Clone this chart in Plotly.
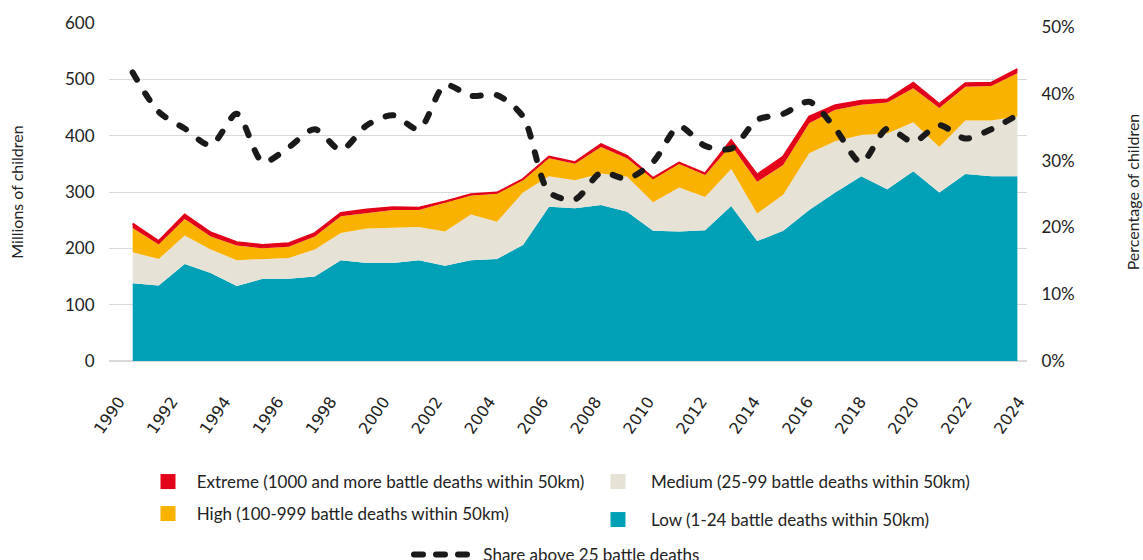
import plotly.graph_objects as go

years = list(range(1990, 2025))

low = [138, 134, 172, 156, 133, 146, 146, 150, 179, 174, 174, 179, 169, 179, 181, 206, 274, 271, 277, 265,
       231, 230, 232, 275, 213, 231, 268, 299, 328, 305, 337, 299, 332, 328, 328]
medium = [55, 47, 51, 42, 46, 35, 37, 48, 48, 61, 63, 59, 61, 81, 66, 93, 54, 50, 56, 62,
          51, 78, 59, 66, 49, 64, 101, 91, 73, 99, 87, 81, 95, 99, 106]
high = [43, 26, 29, 23, 26, 19, 20, 23, 30, 28, 31, 30, 51, 34, 50, 22, 32, 29, 47, 33,
        41, 42, 39, 42, 56, 53, 53, 56, 54, 55, 60, 69, 60, 61, 77]
extreme = [8, 6, 8, 7, 6, 6, 6, 6, 6, 6, 5, 4, 2, 2, 2, 2, 3, 3, 5, 4,
           2, 2, 3, 9, 13, 15, 12, 8, 7, 5, 10, 7, 6, 6, 7]
share = [43.2, 37.3, 34.8, 32.3, 37.0, 29.8, 32.0, 34.7, 31.6, 35.3, 36.8, 34.7, 41.3, 39.7, 39.8, 36.6,
         25.3, 24.2, 28.2, 27.3, 29.8, 35.1, 32.2, 31.8, 36.1, 37.0, 38.8, 34.8, 29.7, 34.8, 32.8,
         35.3, 33.3, 34.7, 36.8]

x_ticks = years[::2]
left_ticks = [0, 100, 200, 300, 400, 500, 600]
right_ticks = [0, 0.1, 0.2, 0.3, 0.4, 0.5]

C_LOW = "#00A1B6"
C_MED = "#E6E2D6"
C_HIGH = "#F9B200"
C_EXT = "#E2001A"
C_LINE = "#1A1A1A"

FONT = "Lato, 'Open Sans', sans-serif"
NB = "\u00a0"

fig = go.Figure()

series = [("Low (1-24 battle deaths within 50km)", low, C_LOW, 0),
          ("Medium (25-99 battle deaths within 50km)", medium, C_MED, 0),
          ("High (100-999 battle deaths within 50km)", high, C_HIGH, 0),
          ("Extreme (1000 and more battle deaths within 50km)", extreme, C_EXT, 2)]

for name, vals, col, lw in series:
    fig.add_trace(go.Scatter(
        x=years, y=vals, name=name, stackgroup="one", mode="lines",
        line=dict(color=col, width=lw), fillcolor=col, showlegend=False,
        hoverinfo="skip"))

fig.add_trace(go.Scatter(
    x=years, y=[v / 100 for v in share], yaxis="y2", mode="lines",
    name="Share above 25 battle deaths",
    line=dict(color=C_LINE, width=6, dash="8px,16px", shape="spline", smoothing=0.8),
    showlegend=False))

# invisible trace to carry the tick-label axis
fig.add_trace(go.Scatter(x=[None], y=[None], xaxis="x2", yaxis="y", showlegend=False,
                         hoverinfo="skip"))

# legend entries (separate legends for layout)
legend_items = [
    (NB * 2 + "Extreme (1000 and more battle deaths within 50km)", C_EXT, "legend"),
    (NB * 2 + "High (100-999 battle deaths within 50km)", C_HIGH, "legend2"),
    (NB * 3 + "Medium (25-99 battle deaths within 50km)", C_MED, "legend3"),
    (NB * 3 + "Low (1-24 battle deaths within 50km)", C_LOW, "legend4"),
]
for name, col, lg in legend_items:
    fig.add_trace(go.Scatter(
        x=[None], y=[None], mode="markers", name=name,
        marker=dict(symbol="square", size=15, color=col), legend=lg, showlegend=True))

fig.add_trace(go.Scatter(
    x=[None], y=[None], mode="lines", name=NB + "Share above 25 battle deaths",
    line=dict(color=C_LINE, width=6, dash="9px,13px"), legend="legend5", showlegend=True))

W, H = 1143, 560
L, R, T, B = 109, 116, 23, 199
pw, ph = W - L - R, H - T - B


def px(xp):
    return (xp - L) / pw


def py(yp):
    return (H - B - yp) / ph


lg_common = dict(font=dict(family=FONT, size=17, color="#222"), bgcolor="rgba(0,0,0,0)",
                 xanchor="left", yanchor="middle", itemclick=False)

fig.update_layout(
    width=W, height=H,
    margin=dict(l=L, r=R, t=T, b=B, autoexpand=False),
    paper_bgcolor="white", plot_bgcolor="white",
    font=dict(family=FONT, size=16, color="#222"),
    xaxis=dict(range=[1989.09, 2024.37], showticklabels=False,
               showgrid=False, zeroline=False, showline=False, automargin=False),
    xaxis2=dict(range=[1989.622, 2024.302], overlaying="x", anchor="y", side="bottom",
                tickvals=x_ticks, tickangle=-55, showgrid=False, zeroline=False,
                showline=False, automargin=False,
                ticks="outside", ticklen=24, tickcolor="rgba(0,0,0,0)",
                tickfont=dict(family="DejaVu Sans, sans-serif", size=16, color="#222")),
    yaxis=dict(range=[0, 600], tickvals=left_ticks, showgrid=True, gridcolor="#D9D9D9",
               gridwidth=1, zeroline=True, zerolinecolor="#D9D9D9", showline=False,
               ticks="outside", ticklen=10, tickcolor="rgba(0,0,0,0)", automargin=False,
               tickfont=dict(size=17, color="#222"),
               title=dict(text="Millions of children", standoff=37,
                          font=dict(size=16, color="#222"))),
    yaxis2=dict(range=[0, 0.506], tickvals=right_ticks, tickformat=".0%", overlaying="y",
                side="right", showgrid=False, zeroline=False, showline=False, automargin=False,
                ticks="outside", ticklen=10, tickcolor="rgba(0,0,0,0)",
                tickfont=dict(size=17, color="#222"),
                title=dict(text="Percentage of children", standoff=54,
                           font=dict(size=16, color="#222"))),
    legend=dict(x=px(148), y=py(482), **lg_common),
    legend2=dict(x=px(148), y=py(514), **lg_common),
    legend3=dict(x=px(598), y=py(482), **lg_common),
    legend4=dict(x=px(598), y=py(520), **lg_common),
    legend5=dict(x=px(409), y=py(555), **lg_common, itemwidth=60),
)

post = """
document.body.style.margin = '0';
document.body.style.padding = '0';
var s = document.createElement('style');
s.innerHTML = 'path.js-line[style*="dasharray"], .legendlines path[style*="dasharray"] {stroke-linecap: round !important;}';
document.head.appendChild(s);
"""

fig.write_html("out.html", post_script=post, config={"displayModeBar": False})
